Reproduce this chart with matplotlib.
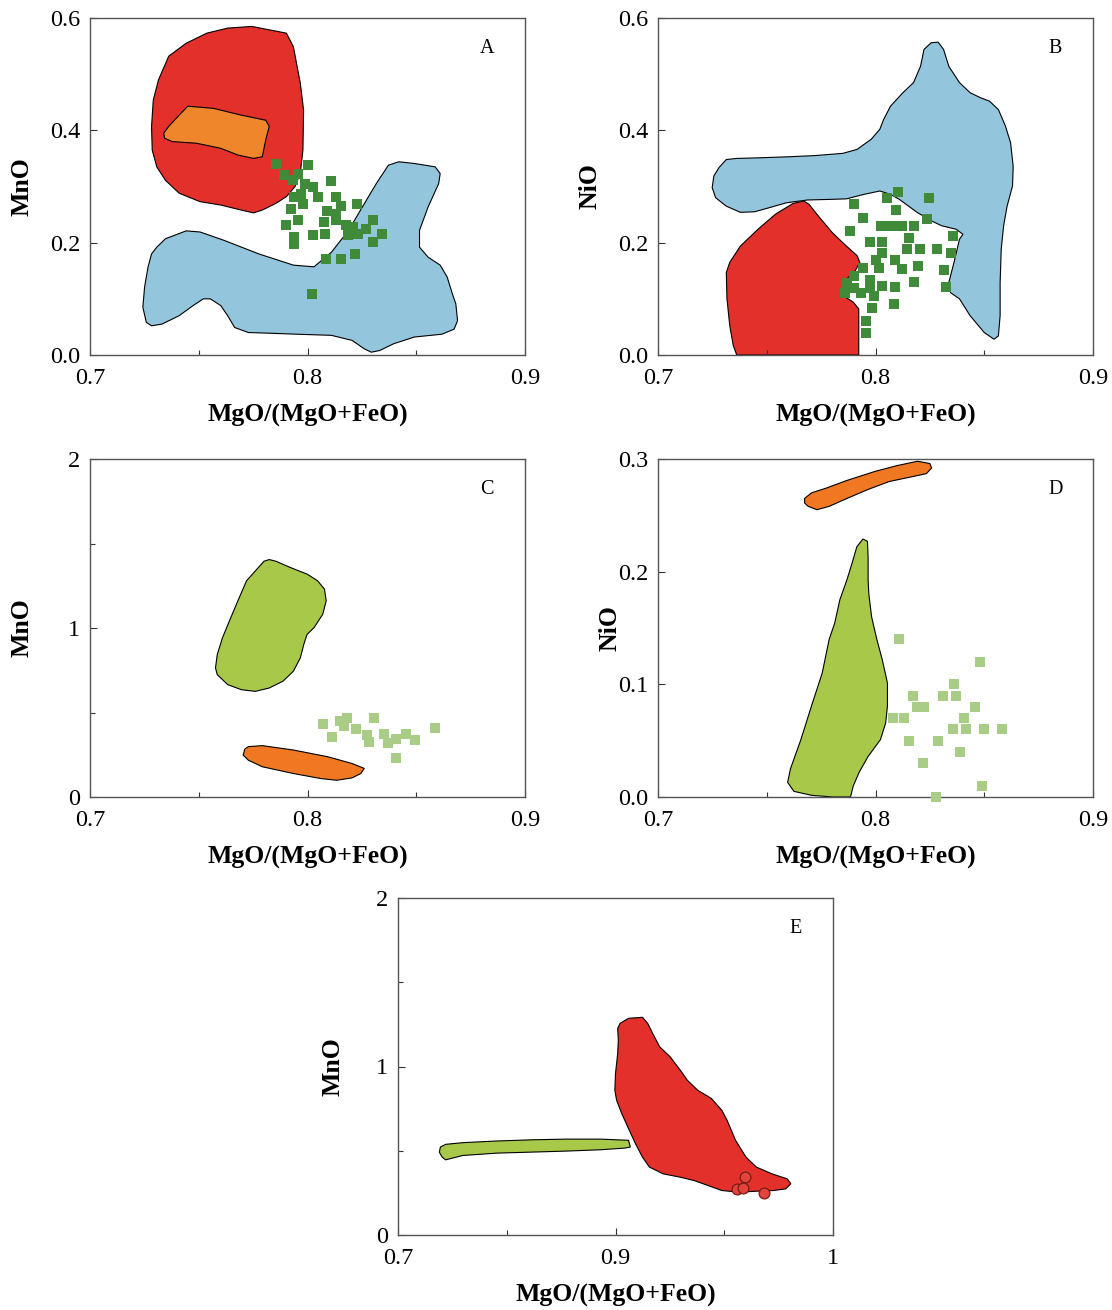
import matplotlib
matplotlib.use("Agg")
import matplotlib.pyplot as plt

plt.rcParams['font.family'] = ['Liberation Serif', 'DejaVu Serif']

# ---------------- data ----------------
# Panel A (MnO vs Mg#)
A_red_x = [0.7744, 0.7903, 0.7935, 0.7967, 0.7982, 0.7979, 0.7967, 0.7943, 0.7903, 0.7855, 0.7792, 0.7752, 0.7696,
           0.7601, 0.7506, 0.7410, 0.7347, 0.7307, 0.7286, 0.7283, 0.7291, 0.7315, 0.7362, 0.7442, 0.7537, 0.7633]
A_red_y = [0.585, 0.573, 0.549, 0.484, 0.436, 0.365, 0.324, 0.300, 0.282, 0.270, 0.258, 0.253, 0.258,
           0.267, 0.273, 0.288, 0.311, 0.335, 0.365, 0.407, 0.454, 0.490, 0.532, 0.555, 0.573, 0.582]
A_orange_x = [0.7450, 0.7569, 0.7696, 0.7808, 0.7824, 0.7808, 0.7792, 0.7752, 0.7680, 0.7601, 0.7490, 0.7378,
              0.7343, 0.7339, 0.7362, 0.7410]
A_orange_y = [0.443, 0.439, 0.427, 0.418, 0.407, 0.383, 0.353, 0.350, 0.356, 0.368, 0.377, 0.380,
              0.386, 0.395, 0.407, 0.427]
A_blue_x = [0.7307, 0.7347, 0.7442, 0.7506, 0.7617, 0.7776, 0.7935, 0.8030, 0.8110, 0.8189, 0.8253, 0.8316,
            0.8372, 0.8420, 0.8491, 0.8587, 0.8610, 0.8603, 0.8555, 0.8515, 0.8515, 0.8555, 0.8610, 0.8642,
            0.8666, 0.8682, 0.8690, 0.8674, 0.8618, 0.8491, 0.8396, 0.8332, 0.8293, 0.8261, 0.8205, 0.8110,
            0.7951, 0.7808, 0.7728, 0.7665, 0.7633, 0.7601, 0.7553, 0.7521, 0.7474, 0.7410, 0.7331, 0.7283,
            0.7259, 0.7243, 0.7251, 0.7267, 0.7283]
A_blue_y = [0.192, 0.207, 0.221, 0.219, 0.204, 0.180, 0.160, 0.157, 0.183, 0.222, 0.264, 0.305,
            0.338, 0.344, 0.341, 0.335, 0.323, 0.305, 0.264, 0.222, 0.192, 0.174, 0.160, 0.139,
            0.109, 0.091, 0.061, 0.046, 0.037, 0.032, 0.020, 0.008, 0.005, 0.011, 0.026, 0.035,
            0.037, 0.039, 0.040, 0.049, 0.070, 0.088, 0.100, 0.100, 0.088, 0.070, 0.055, 0.052,
            0.058, 0.085, 0.121, 0.157, 0.180]
A_pts_x = [0.7854, 0.7893, 0.8000, 0.7956, 0.7932, 0.8110, 0.7987, 0.8027, 0.8050, 0.7937, 0.8129, 0.8227,
           0.7924, 0.7979, 0.8090, 0.8153, 0.7901, 0.7956, 0.8074, 0.8129, 0.8176, 0.8302, 0.8271, 0.8027,
           0.8082, 0.8184, 0.8231, 0.8342, 0.7940, 0.7937, 0.8299, 0.8085, 0.8153, 0.8220, 0.8022, 0.8129,
           0.8208, 0.7972]
A_pts_y = [0.340, 0.320, 0.339, 0.323, 0.311, 0.310, 0.305, 0.299, 0.281, 0.281, 0.281, 0.269,
           0.260, 0.269, 0.257, 0.266, 0.232, 0.240, 0.237, 0.240, 0.231, 0.240, 0.225, 0.213,
           0.216, 0.213, 0.216, 0.216, 0.210, 0.198, 0.201, 0.171, 0.171, 0.180, 0.109, 0.251,
           0.228, 0.287]

# Panel B (NiO vs Mg#)
B_red_x = [0.7362, 0.7346, 0.7330, 0.7317, 0.7314, 0.7330, 0.7379, 0.7460, 0.7541, 0.7622, 0.7671, 0.7695,
           0.7736, 0.7801, 0.7866, 0.7915, 0.7928, 0.7907, 0.7874, 0.7850, 0.7846, 0.7866, 0.7898, 0.7923, 0.7923]
B_red_y = [0.0, 0.017, 0.052, 0.100, 0.147, 0.165, 0.194, 0.224, 0.251, 0.270, 0.274, 0.268,
           0.248, 0.218, 0.194, 0.177, 0.165, 0.150, 0.138, 0.123, 0.111, 0.102, 0.094, 0.082, 0.0]
B_blue_x = [0.7314, 0.7362, 0.7460, 0.7606, 0.7720, 0.7850, 0.7915, 0.7980, 0.8020, 0.8037, 0.8069, 0.8126,
            0.8175, 0.8207, 0.8223, 0.8256, 0.8288, 0.8313, 0.8337, 0.8386, 0.8435, 0.8483, 0.8524, 0.8565,
            0.8597, 0.8621, 0.8633, 0.8630, 0.8605, 0.8589, 0.8578, 0.8573, 0.8573, 0.8565, 0.8545, 0.8500,
            0.8435, 0.8386, 0.8345, 0.8337, 0.8361, 0.8386, 0.8402, 0.8370, 0.8305, 0.8256, 0.8191, 0.8110,
            0.8069, 0.8020, 0.7947, 0.7866, 0.7785, 0.7687, 0.7590, 0.7509, 0.7444, 0.7379, 0.7314, 0.7265,
            0.7249, 0.7257, 0.7281]
B_blue_y = [0.348, 0.350, 0.351, 0.353, 0.355, 0.359, 0.366, 0.384, 0.402, 0.419, 0.443, 0.467,
            0.485, 0.514, 0.544, 0.556, 0.557, 0.544, 0.514, 0.485, 0.467, 0.458, 0.452, 0.437,
            0.408, 0.378, 0.336, 0.301, 0.265, 0.230, 0.188, 0.129, 0.070, 0.034, 0.028, 0.040,
            0.070, 0.100, 0.111, 0.129, 0.165, 0.206, 0.215, 0.224, 0.230, 0.239, 0.254, 0.277,
            0.286, 0.292, 0.286, 0.278, 0.277, 0.276, 0.271, 0.262, 0.255, 0.254, 0.265, 0.280,
            0.298, 0.319, 0.334]
B_pts_x = [0.8102, 0.8054, 0.8244, 0.7903, 0.8093, 0.7943, 0.8236, 0.7881, 0.8024, 0.8089, 0.7976, 0.8032,
           0.8179, 0.8154, 0.8357, 0.8203, 0.8284, 0.8349, 0.8146, 0.8032, 0.8000, 0.8089, 0.7943, 0.8016,
           0.8122, 0.8195, 0.8317, 0.7903, 0.7976, 0.8179, 0.7870, 0.8032, 0.8089, 0.8325, 0.7859, 0.7935,
           0.7992, 0.8086, 0.7984, 0.7956, 0.7956, 0.7903, 0.7976, 0.8060, 0.8122]
B_pts_y = [0.291, 0.279, 0.279, 0.269, 0.259, 0.244, 0.242, 0.220, 0.230, 0.230, 0.202, 0.202,
           0.229, 0.208, 0.211, 0.188, 0.188, 0.182, 0.188, 0.182, 0.170, 0.170, 0.155, 0.155,
           0.153, 0.159, 0.152, 0.140, 0.134, 0.130, 0.128, 0.123, 0.121, 0.121, 0.111, 0.111,
           0.105, 0.090, 0.084, 0.060, 0.040, 0.120, 0.120, 0.230, 0.230]

# Panel C (MnO vs Mg#)
C_green_x = [0.7824, 0.7855, 0.7919, 0.7998, 0.8046, 0.8078, 0.8086, 0.8070, 0.8030, 0.7998, 0.7983, 0.7967,
             0.7935, 0.7887, 0.7824, 0.7760, 0.7696, 0.7633, 0.7585, 0.7577, 0.7585, 0.7609, 0.7641, 0.7680,
             0.7720, 0.7768, 0.7800]
C_green_y = [1.405, 1.395, 1.359, 1.319, 1.280, 1.230, 1.161, 1.081, 1.002, 0.962, 0.903, 0.823,
             0.744, 0.685, 0.645, 0.625, 0.635, 0.665, 0.724, 0.764, 0.843, 0.942, 1.042, 1.161,
             1.280, 1.349, 1.395]
C_orange_x = [0.7728, 0.7792, 0.7935, 0.8094, 0.8205, 0.8261, 0.8245, 0.8205, 0.8134, 0.8062, 0.7935, 0.7792,
              0.7728, 0.7704, 0.7712]
C_orange_y = [0.298, 0.304, 0.278, 0.238, 0.198, 0.169, 0.139, 0.113, 0.099, 0.109, 0.139, 0.179,
              0.218, 0.248, 0.284]
C_pts_x = [0.8073, 0.8112, 0.8151, 0.8182, 0.8221, 0.8275, 0.8283, 0.8307, 0.8353, 0.8369, 0.8408, 0.8408,
           0.8455, 0.8493, 0.8587, 0.8167]
C_pts_y = [0.431, 0.355, 0.449, 0.468, 0.403, 0.365, 0.327, 0.468, 0.374, 0.317, 0.345, 0.232,
           0.374, 0.336, 0.411, 0.421]

# Panel D (NiO vs Mg#)
D_orange_x = [0.7674, 0.7706, 0.7771, 0.7869, 0.7998, 0.8096, 0.8193, 0.8250, 0.8258, 0.8234, 0.8161, 0.8063,
              0.7966, 0.7869, 0.7787, 0.7731, 0.7690, 0.7674]
D_orange_y = [0.265, 0.270, 0.274, 0.281, 0.289, 0.294, 0.298, 0.296, 0.292, 0.287, 0.284, 0.280,
              0.273, 0.265, 0.258, 0.255, 0.258, 0.261]
D_green_x = [0.7942, 0.7963, 0.7966, 0.7966, 0.7969, 0.7982, 0.8006, 0.8031, 0.8055, 0.8055, 0.8047, 0.8023,
             0.7966, 0.7925, 0.7898, 0.7885, 0.7804, 0.7706, 0.7625, 0.7596, 0.7609, 0.7657, 0.7706, 0.7755,
             0.7787, 0.7812, 0.7836, 0.7869, 0.7893, 0.7914]
D_green_y = [0.229, 0.227, 0.213, 0.193, 0.181, 0.160, 0.140, 0.122, 0.101, 0.081, 0.066, 0.051,
             0.036, 0.022, 0.010, 0.0, 0.0, 0.0015, 0.005, 0.013, 0.025, 0.051, 0.081, 0.110,
             0.140, 0.154, 0.175, 0.193, 0.208, 0.222]
D_pts_x = [0.8107, 0.8480, 0.8359, 0.8309, 0.8370, 0.8171, 0.8190, 0.8225, 0.8459, 0.8080, 0.8133, 0.8408,
           0.8355, 0.8416, 0.8500, 0.8581, 0.8153, 0.8289, 0.8390, 0.8220, 0.8489, 0.8278]
D_pts_y = [0.14, 0.12, 0.10, 0.09, 0.09, 0.09, 0.08, 0.08, 0.08, 0.07, 0.07, 0.07,
           0.06, 0.06, 0.06, 0.06, 0.05, 0.05, 0.04, 0.03, 0.01, 0.00]

# Panel E (MnO vs Mg#), axis drawn 0.8-1.0 but labelled as in the source figure
E_green_x = [0.8195, 0.8219, 0.8298, 0.8457, 0.8616, 0.8775, 0.8933, 0.9060, 0.9068, 0.9044, 0.8933, 0.8775,
             0.8616, 0.8457, 0.8298, 0.8219, 0.8203, 0.8190]
E_green_y = [0.522, 0.538, 0.548, 0.558, 0.565, 0.569, 0.569, 0.562, 0.522, 0.516, 0.506, 0.498,
             0.492, 0.486, 0.472, 0.446, 0.462, 0.492]
E_red_x = [0.9021, 0.9060, 0.9124, 0.9148, 0.9171, 0.9203, 0.9251, 0.9298, 0.9330, 0.9378, 0.9441, 0.9489,
           0.9513, 0.9552, 0.9600, 0.9648, 0.9719, 0.9790, 0.9806, 0.9783, 0.9727, 0.9648, 0.9568, 0.9489,
           0.9425, 0.9362, 0.9298, 0.9219, 0.9156, 0.9124, 0.9092, 0.9060, 0.9029, 0.9005, 0.8997, 0.9000,
           0.9010, 0.9013, 0.9010]
E_red_y = [1.256, 1.286, 1.292, 1.256, 1.196, 1.117, 1.058, 0.978, 0.919, 0.859, 0.810, 0.740,
           0.681, 0.562, 0.462, 0.403, 0.363, 0.333, 0.304, 0.274, 0.264, 0.260, 0.254, 0.264,
           0.294, 0.323, 0.343, 0.363, 0.403, 0.462, 0.542, 0.631, 0.720, 0.800, 0.859, 0.958,
           1.077, 1.157, 1.226]
E_pts_x = [0.9597, 0.9557, 0.9584, 0.9683]
E_pts_y = [0.347, 0.274, 0.280, 0.248]

# axis ticks and labels
AB_xticks = [0.7, 0.8, 0.9]
AB_xticklabels = ['0.7', '0.8', '0.9']
AB_xminor = [0.75, 0.85]
A_yticks = [0.0, 0.2, 0.4, 0.6]
A_yticklabels = ['0.0', '0.2', '0.4', '0.6']
C_yticks = [0, 1, 2]
C_yticklabels = ['0', '1', '2']
C_yminor = [0.5, 1.5]
D_yticks = [0.0, 0.1, 0.2, 0.3]
D_yticklabels = ['0.0', '0.1', '0.2', '0.3']
E_xticks = [0.8, 0.9, 1.0]
E_xticklabels = ['0.7', '0.9', '1']
E_xminor = [0.85, 0.95]

# ---------------- style ----------------
RED = '#E3302B'
ORANGE_A = '#F0862C'
ORANGE = '#F07822'
BLUE = '#93C6DC'
YGREEN = '#A8C84A'
DGREEN = '#3F8B3A'
LGREEN = '#A9CC86'

W, H = 1112, 1310
fig = plt.figure(figsize=(W / 100, H / 100), dpi=100)


def make_ax(left, right, top, bottom):
    return fig.add_axes([left / W, 1 - bottom / H, (right - left) / W, (bottom - top) / H])


def style(ax, xlim, ylim, xt, xtl, xmin, yt, ytl, ymin, ylabel, letter, ylab_x):
    ax.set_xlim(*xlim)
    ax.set_ylim(*ylim)
    ax.set_xticks(xt)
    ax.set_xticklabels(xtl)
    ax.set_xticks(xmin, minor=True)
    ax.set_yticks(yt)
    ax.set_yticklabels(ytl)
    if ymin:
        ax.set_yticks(ymin, minor=True)
    ax.tick_params(which='major', direction='in', length=5, width=0.8, color='#333333', labelsize=17.5)
    ax.tick_params(which='minor', direction='in', length=3.5, width=0.8, color='#333333')
    ax.tick_params(axis='x', which='major', pad=9)
    ax.tick_params(axis='y', which='major', pad=7)
    for sp in ax.spines.values():
        sp.set_color('#555555')
        sp.set_linewidth(1.0)
    ax.set_xlabel('MgO/(MgO+FeO)', fontsize=18.5, fontweight='bold')
    ax.xaxis.label.set_va('center')
    ax.xaxis.set_label_coords(0.5, -0.18)
    ax.set_ylabel(ylabel, fontsize=18.5, fontweight='bold')
    ax.yaxis.label.set_va('center')
    ax.yaxis.set_label_coords(ylab_x, 0.5)
    ax.text(0.913, 0.91, letter, transform=ax.transAxes, fontsize=14.5, ha='center', va='center')


poly_kw = dict(edgecolor='black', linewidth=0.8)
sq_kw = dict(marker='s', s=52, linewidths=0, zorder=5)

# Panel A
axA = make_ax(90, 525, 18, 355)
axA.fill(A_blue_x, A_blue_y, facecolor=BLUE, **poly_kw)
axA.fill(A_red_x, A_red_y, facecolor=RED, **poly_kw)
axA.fill(A_orange_x, A_orange_y, facecolor=ORANGE_A, **poly_kw)
axA.scatter(A_pts_x, A_pts_y, color=DGREEN, **sq_kw)
style(axA, (0.7, 0.9), (0, 0.6), AB_xticks, AB_xticklabels, AB_xminor, A_yticks, A_yticklabels, None, 'MnO', 'A', -0.156)

# Panel B
axB = make_ax(658, 1093, 18, 355)
axB.fill(B_blue_x, B_blue_y, facecolor=BLUE, **poly_kw)
axB.fill(B_red_x, B_red_y, facecolor=RED, **poly_kw)
axB.scatter(B_pts_x, B_pts_y, color=DGREEN, **sq_kw)
style(axB, (0.7, 0.9), (0, 0.6), AB_xticks, AB_xticklabels, AB_xminor, A_yticks, A_yticklabels, None, 'NiO', 'B', -0.156)

# Panel C
axC = make_ax(90, 525, 459, 797)
axC.fill(C_green_x, C_green_y, facecolor=YGREEN, **poly_kw)
axC.fill(C_orange_x, C_orange_y, facecolor=ORANGE, **poly_kw)
axC.scatter(C_pts_x, C_pts_y, color=LGREEN, **sq_kw)
style(axC, (0.7, 0.9), (0, 2), AB_xticks, AB_xticklabels, AB_xminor, C_yticks, C_yticklabels, C_yminor, 'MnO', 'C', -0.156)

# Panel D
axD = make_ax(658, 1093, 459, 797)
axD.fill(D_orange_x, D_orange_y, facecolor=ORANGE, **poly_kw)
axD.fill(D_green_x, D_green_y, facecolor=YGREEN, **poly_kw)
axD.scatter(D_pts_x, D_pts_y, color=LGREEN, clip_on=False, **sq_kw)
style(axD, (0.7, 0.9), (0, 0.3), AB_xticks, AB_xticklabels, AB_xminor, D_yticks, D_yticklabels, None, 'NiO', 'D', -0.11)

# Panel E
axE = make_ax(398, 833, 898, 1235)
axE.fill(E_green_x, E_green_y, facecolor=YGREEN, **poly_kw)
axE.fill(E_red_x, E_red_y, facecolor=RED, **poly_kw)
axE.scatter(E_pts_x, E_pts_y, marker='o', s=60, facecolor='#E0443C', edgecolor='#7A1A14', linewidths=0.9, zorder=5)
style(axE, (0.8, 1.0), (0, 2), E_xticks, E_xticklabels, E_xminor, C_yticks, C_yticklabels, C_yminor, 'MnO', 'E', -0.15)

fig.savefig('out.png', dpi=100, facecolor='white')
